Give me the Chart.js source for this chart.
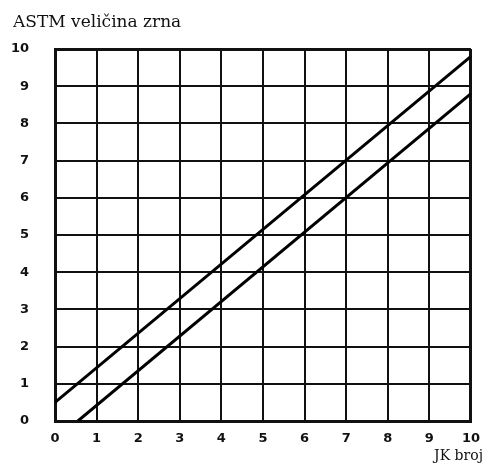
<!DOCTYPE html>
<html>
<head>
<meta charset="utf-8">
<script src="https://cdn.jsdelivr.net/npm/chart.js@4/dist/chart.umd.min.js"></script>
<style>
  html, body { margin: 0; padding: 0; background: #fff; }
  #wrap { width: 490px; height: 468px; }
</style>
</head>
<body>
<div id="wrap"><canvas id="chart" width="490" height="468"></canvas></div>
<script>
// JK broj (x) vs ASTM velicina zrna (y), two parallel boundary lines
var upperX = [0, 10];
var upperY = [0.5, 9.8];
var lowerX = [0.55, 10];
var lowerY = [0, 8.8];
var tickValues = [0, 1, 2, 3, 4, 5, 6, 7, 8, 9, 10];

var toPoints = function(xs, ys){
    var pts = [];
    for (var i = 0; i < xs.length; i++) pts.push({x: xs[i], y: ys[i]});
    return pts;
}

var labelsPlugin = {
    id: 'labels',
    afterDraw: function(chart){
        var ctx = chart.ctx;
        ctx.save();
        ctx.fillStyle = '#111';
        ctx.font = '17px "DejaVu Serif"';
        ctx.textAlign = 'left';
        ctx.textBaseline = 'alphabetic';
        ctx.fillText('ASTM veličina zrna', 13, 27);
        ctx.font = '14px "DejaVu Serif"';
        ctx.textAlign = 'right';
        ctx.fillText('JK broj', 483, 460);
        ctx.restore();
    }
}

var gridWidth = function(c){
    if (c.tick && (c.tick.value === 0 || c.tick.value === 10)) return 3;
    return 2;
}

var tickFont = { family: 'DejaVu Sans', size: 13, weight: 'bold' };

new Chart(document.getElementById('chart').getContext('2d'), {
    type: 'scatter',
    data: {
        datasets: [{
            data: toPoints(upperX, upperY),
            showLine: true,
            borderColor: '#000',
            borderWidth: 3,
            pointRadius: 0
        }, {
            data: toPoints(lowerX, lowerY),
            showLine: true,
            borderColor: '#000',
            borderWidth: 3,
            pointRadius: 0
        }]
    },
    options: {
        responsive: false,
        animation: false,
        layout: { padding: { top: 49, right: 18, left: 0, bottom: 0 } },
        plugins: { legend: { display: false }, tooltip: { enabled: false } },
        scales: {
            x: {
                type: 'linear', min: 0, max: 10,
                afterBuildTicks: function(s){ s.ticks = tickValues.map(function(v){ return {value: v}; }); },
                afterFit: function(s){ s.height = 47; },
                grid: { color: '#111', lineWidth: gridWidth, drawTicks: false },
                border: { color: '#111', width: 3 },
                ticks: { color: '#111', font: tickFont, padding: 10, maxRotation: 0 }
            },
            y: {
                type: 'linear', min: 0, max: 10,
                afterBuildTicks: function(s){ s.ticks = tickValues.map(function(v){ return {value: v}; }); },
                afterFit: function(s){ s.width = 55; },
                grid: { color: '#111', lineWidth: gridWidth, drawTicks: false },
                border: { color: '#111', width: 3 },
                ticks: { color: '#111', font: tickFont, padding: 26 }
            }
        }
    },
    plugins: [labelsPlugin]
});
</script>
</body>
</html>
